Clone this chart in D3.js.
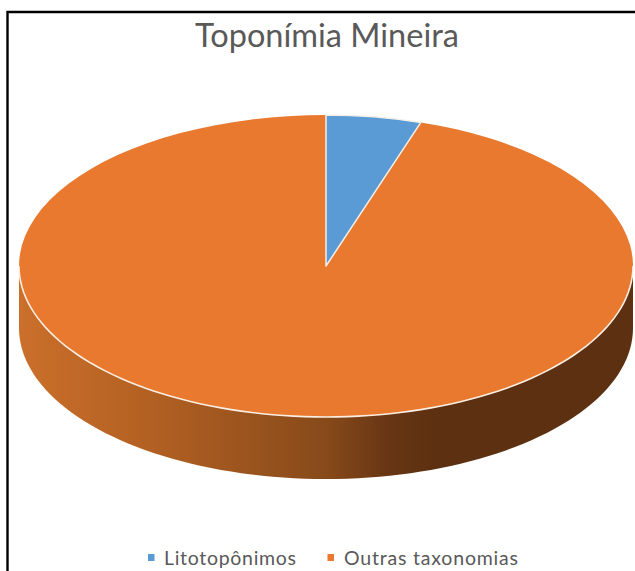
<!DOCTYPE html>
<html lang="pt">
<head>
<meta charset="utf-8">
<title>Toponímia Mineira</title>
<script src="https://cdnjs.cloudflare.com/ajax/libs/d3/7.8.5/d3.min.js"></script>
<style>
html, body { margin: 0; padding: 0; background: #fff; overflow: hidden; }
svg { display: block; font-family: Lato, "Open Sans", sans-serif; }
</style>
</head>
<body>
<div id="chart"></div>
<script>
"use strict";

var categories = ["Litotopônimos", "Outras taxonomias"];
var values = [5, 95];
var colors = ["#5b9bd5", "#e9792e"];
var wallStops = ["#cb6f2b", "#b05f22", "#874a1a", "#683614", "#5c3010", "#5c3010"];

var width = 635, height = 571;
var cx = 326, cy = 266, rx = 307, ry = 151, depth = 62;

var svg = d3.select("#chart").append("svg")
    .attr("width", width)
    .attr("height", height);

// frame, only top and left are inside the crop
svg.append("path")
    .attr("d", "M7.5," + height + "V12H" + width)
    .attr("fill", "none")
    .attr("stroke", "#000")
    .attr("stroke-width", 2.4);

svg.append("text")
    .attr("x", 327)
    .attr("y", 47)
    .attr("text-anchor", "middle")
    .attr("font-size", 33)
    .attr("fill", "#595959")
    .attr("textLength", 264)
    .attr("lengthAdjust", "spacingAndGlyphs")
    .text("Toponímia Mineira");

var grad = svg.append("defs").append("linearGradient")
    .attr("id", "wall")
    .attr("gradientUnits", "userSpaceOnUse")
    .attr("x1", cx - rx).attr("x2", cx + rx)
    .attr("y1", 0).attr("y2", 0);

var stopPos = [0, 0.23, 0.5, 0.6, 0.68, 1];
wallStops.forEach(function(c, i) {
  grad.append("stop").attr("offset", stopPos[i]).attr("stop-color", c);
});

// side wall: front half of the ellipse, pushed down by the depth
var front = d3.range(0, 181, 2).map(function(d) { return d * Math.PI / 180; });
var wall = d3.area()
    .x(function(a) { return cx + rx * Math.cos(a); })
    .y0(function(a) { return cy + ry * Math.sin(a); })
    .y1(function(a) { return cy + depth + ry * Math.sin(a); });

svg.append("path")
    .attr("d", wall(front))
    .attr("fill", "url(#wall)");

// top face, circle pie squashed into an ellipse
var pie = d3.pie().sort(null).startAngle(0).endAngle(2 * Math.PI);
var arc = d3.arc().innerRadius(0).outerRadius(rx);
var slices = pie(values);

svg.append("g")
    .attr("transform", "translate(" + cx + "," + cy + ") scale(1," + (ry / rx) + ")")
    .selectAll("path")
    .data([slices[1], slices[0]])
    .enter().append("path")
    .attr("d", arc)
    .attr("fill", function(d) { return colors[d.index]; })
    .attr("stroke", function(d) { return d.index === 0 ? "#f4f0e8" : "none"; })
    .attr("stroke-width", 1.5)
    .attr("stroke-linejoin", "round")
    .attr("vector-effect", "non-scaling-stroke");

// pale rim along the front edge of the top face
var rim = d3.line()
    .x(function(a) { return cx + rx * Math.cos(a); })
    .y(function(a) { return cy + ry * Math.sin(a); });

svg.append("path")
    .attr("d", rim(front))
    .attr("fill", "none")
    .attr("stroke", "#fbeee2")
    .attr("stroke-width", 1.6);

// legend
var legendMarkX = [148, 327.5];
var legendTextX = [164, 344];
var legendWidth = [132, 174];

var legend = svg.append("g").selectAll("g")
    .data(categories)
    .enter().append("g");

legend.append("rect")
    .attr("x", function(d, i) { return legendMarkX[i]; })
    .attr("y", 554)
    .attr("width", 6.5)
    .attr("height", 7)
    .attr("fill", function(d, i) { return colors[i]; });

legend.append("text")
    .attr("x", function(d, i) { return legendTextX[i]; })
    .attr("y", 565)
    .attr("font-size", 19.5)
    .attr("fill", "#595959")
    .attr("textLength", function(d, i) { return legendWidth[i]; })
    .text(function(d) { return d; });
</script>
</body>
</html>
